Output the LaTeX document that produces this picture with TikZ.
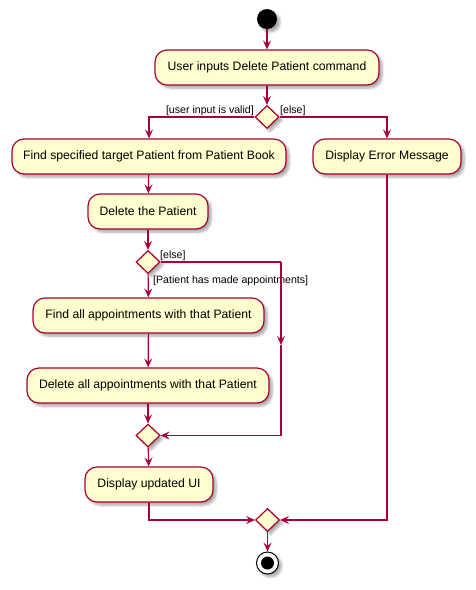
\documentclass[tikz,border=0pt]{standalone}
\usepackage{fontspec}
\setmainfont{Liberation Sans}
\usetikzlibrary{shapes.geometric,arrows.meta,shadows.blur}
\definecolor{pfill}{HTML}{FEFECE}
\definecolor{pline}{HTML}{A80036}
\tikzset{
  shd/.style={blur shadow={shadow xshift=3pt,shadow yshift=-3pt,shadow blur steps=6,shadow blur radius=2.5pt,shadow opacity=35}},
  act/.style={draw=pline,fill=pfill,line width=1.2pt,rounded corners=12pt,minimum height=35pt,inner xsep=0pt,font=\fontsize{12.2}{14}\selectfont,shd},
  dia/.style={draw=pline,fill=pfill,line width=1.2pt,diamond,aspect=1,inner sep=0pt,minimum width=24pt,minimum height=23pt,shd},
  conn/.style={draw=pline,line width=1.2pt,-{Stealth[length=9pt,width=8pt,inset=3.5pt]}},
  plain/.style={draw=pline,line width=1.2pt},
  lbl/.style={font=\fontsize{10.6}{13}\selectfont,inner sep=0pt},
}
\begin{document}
\begin{tikzpicture}[x=1pt,y=-1pt]
\useasboundingbox (0,0) rectangle (476,590);
% start
\node[circle,fill=black,minimum size=20pt,inner sep=0pt,shd] (start) at (267,19) {};
\node[act,minimum width=224pt] (a1) at (267,67.5) {User inputs Delete Patient command};
\node[dia] (d1) at (267,117) {};
\node[act,minimum width=274pt] (a2) at (149,156.5) {Find specified target Patient from Patient Book};
\node[act,minimum width=148pt] (err) at (387,156.5) {Display Error Message};
\node[act,minimum width=120pt] (a3) at (148,211.5) {Delete the Patient};
\node[dia] (d2) at (148,262) {};
\node[act,minimum width=231pt] (a4) at (148.5,315.5) {Find all appointments with that Patient};
\node[act,minimum width=242pt] (a5) at (148,385.5) {Delete all appointments with that Patient};
\node[dia] (m1) at (148,435.5) {};
\node[act,minimum width=128pt] (a6) at (149,484.5) {Display updated UI};
\node[dia] (m2) at (267.5,520) {};
\node[circle,draw=black,fill=white,line width=1pt,minimum size=22pt,inner sep=0pt,shd] (stop) at (267.5,563) {};
\node[circle,fill=black,minimum size=13pt,inner sep=0pt] (stopin) at (stop.center) {};
% labels
\node[lbl,anchor=east] (l1) at (254,111) {[user input is valid]};
\node[lbl,anchor=west] (l2) at (280,111) {[else]};
\node[lbl,anchor=west] (l3) at (160,256) {[else]};
\node[lbl,anchor=west] (l4) at (153,281) {[Patient has made appointments]};
% coordinates
\coordinate (c1) at (281,262);
\coordinate (c2) at (281,345);
\coordinate (c3) at (281,435.5);
% connectors
\draw[conn] (start) -- (a1);
\draw[conn] (a1) -- (d1);
\draw[conn] (d1.west) -| (a2.north);
\draw[conn] (d1.east) -| (err.north);
\draw[conn] (a2) -- (a3);
\draw[conn] (a3) -- (d2);
\draw[conn] (d2) -- (a4);
\draw[plain] (d2.east) -- (c1);
\draw[conn] (c1) -- (c2);
\draw[plain] (c2) -- (c3);
\draw[conn] (c3) -- (m1.east);
\draw[conn] (a4) -- (a5);
\draw[conn] (a5) -- (m1);
\draw[conn] (m1) -- (a6);
\draw[conn] (a6.south) |- (m2.west);
\draw[conn] (err.south) |- (m2.east);
\draw[conn] (m2) -- (stop);
\end{tikzpicture}
\end{document}
